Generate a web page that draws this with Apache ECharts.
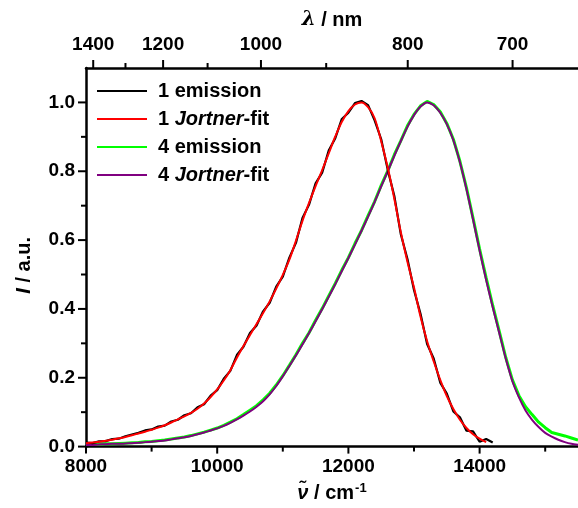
<!DOCTYPE html>
<html>
<head>
<meta charset="utf-8">
<script src="https://cdn.jsdelivr.net/npm/echarts@6/dist/echarts.min.js"></script>
<style>
  html, body { margin: 0; padding: 0; background: #fff; }
  #chart { width: 578px; height: 508px; }
</style>
</head>
<body>
<div id="chart"></div>
<script>
// Wavenumber grid (cm^-1) shared by all spectra
const wavenumber = [
  8000, 8100, 8200, 8300, 8400, 8500, 8600, 8700, 8800, 8900,
  9000, 9100, 9200, 9300, 9400, 9500, 9600, 9700, 9800, 9900,
  10000, 10100, 10200, 10300, 10400, 10500, 10600, 10700, 10800, 10900,
  11000, 11100, 11200, 11300, 11400, 11500, 11600, 11700, 11800, 11900,
  12000, 12100, 12200, 12300, 12400, 12500, 12600, 12700, 12800, 12900,
  13000, 13100, 13200, 13300, 13400, 13500, 13600, 13700, 13800, 13900,
  14000, 14100, 14200, 14300, 14400, 14500, 14600, 14700, 14800, 14900,
  15000, 15100, 15200, 15300, 15400, 15500
];

// Compound 1: measured emission (8000 - 14200 cm^-1)
const emission1 = [
  0.012, 0.010, 0.015, 0.016, 0.022, 0.023, 0.030, 0.035, 0.040, 0.047,
  0.050, 0.058, 0.061, 0.073, 0.078, 0.091, 0.097, 0.114, 0.123, 0.148,
  0.164, 0.197, 0.220, 0.266, 0.290, 0.330, 0.352, 0.393, 0.418, 0.465,
  0.494, 0.549, 0.592, 0.664, 0.703, 0.765, 0.796, 0.860, 0.896, 0.952,
  0.970, 0.998, 1.004, 0.992, 0.948, 0.893, 0.804, 0.728, 0.616, 0.545,
  0.455, 0.385, 0.298, 0.256, 0.186, 0.154, 0.102, 0.085, 0.046, 0.044,
  0.014, 0.022, 0.012
];

// Compound 1: Jortner fit (8000 - 14100 cm^-1)
const fit1 = [
  0.010, 0.012, 0.014, 0.017, 0.020, 0.024, 0.028, 0.033, 0.038, 0.043,
  0.049, 0.055, 0.062, 0.070, 0.079, 0.088, 0.098, 0.110, 0.125, 0.144,
  0.166, 0.192, 0.222, 0.258, 0.292, 0.324, 0.356, 0.388, 0.422, 0.459,
  0.499, 0.543, 0.598, 0.656, 0.708, 0.757, 0.803, 0.852, 0.901, 0.944,
  0.975, 0.994, 1.000, 0.986, 0.954, 0.887, 0.810, 0.720, 0.622, 0.537,
  0.462, 0.377, 0.306, 0.248, 0.194, 0.147, 0.109, 0.078, 0.054, 0.036,
  0.023, 0.013
];

// Compound 4: measured emission (8000 - 15500 cm^-1)
const emission4 = [
  0.007, 0.006, 0.007, 0.008, 0.008, 0.009, 0.010, 0.011, 0.012, 0.014,
  0.015, 0.017, 0.019, 0.022, 0.025, 0.028, 0.032, 0.037, 0.042, 0.048,
  0.054, 0.062, 0.071, 0.081, 0.093, 0.106, 0.119, 0.136, 0.155, 0.179,
  0.206, 0.236, 0.267, 0.300, 0.331, 0.367, 0.401, 0.438, 0.474, 0.513,
  0.549, 0.590, 0.628, 0.671, 0.712, 0.759, 0.801, 0.848, 0.889, 0.932,
  0.965, 0.990, 1.003, 0.994, 0.973, 0.939, 0.893, 0.829, 0.752, 0.664,
  0.574, 0.490, 0.410, 0.335, 0.258, 0.194, 0.148, 0.116, 0.093, 0.071,
  0.055, 0.041, 0.036, 0.031, 0.025, 0.019
];

// Compound 4: Jortner fit (8000 - 15500 cm^-1)
const fit4 = [
  0.005, 0.005, 0.006, 0.007, 0.008, 0.008, 0.009, 0.010, 0.011, 0.013,
  0.014, 0.016, 0.018, 0.021, 0.024, 0.027, 0.031, 0.036, 0.041, 0.047,
  0.053, 0.060, 0.069, 0.079, 0.090, 0.102, 0.116, 0.132, 0.152, 0.176,
  0.204, 0.234, 0.265, 0.297, 0.330, 0.364, 0.399, 0.435, 0.472, 0.510,
  0.548, 0.587, 0.627, 0.668, 0.711, 0.756, 0.800, 0.845, 0.888, 0.929,
  0.963, 0.988, 1.000, 0.992, 0.970, 0.937, 0.890, 0.826, 0.748, 0.660,
  0.570, 0.484, 0.405, 0.330, 0.255, 0.190, 0.143, 0.105, 0.078, 0.057,
  0.040, 0.029, 0.020, 0.013, 0.008, 0.005
];

// Axis ticks
const xMajorTicks = [8000, 10000, 12000, 14000];
const xMinorTicks = [9000, 11000, 13000, 15000];
const yMajorTicks = [0, 0.2, 0.4, 0.6, 0.8, 1.0];
const yMinorTicks = [0.1, 0.3, 0.5, 0.7, 0.9];
const lambdaMajorTicks = [1400, 1200, 1000, 800, 700];   // nm
const lambdaMinorTicks = [1300, 1100, 900];              // nm

const seriesNames = ['1 emission', '1 Jortner-fit', '4 emission', '4 Jortner-fit'];

const X_MIN = 8000, X_MAX = 15500;
const Y_MIN = 0, Y_MAX = 1.1;
const TOP_MIN = 7020, TOP_MAX = 15400;

const pairs = (ys) => ys.map((y, i) => [wavenumber[i], y]);
const toWn = (nm) => 1e7 / nm;

const FONT = 'Liberation Sans, Arial, sans-serif';
const AX = '#000';
const baseText = { fontFamily: FONT, fontWeight: 'bold', color: '#000' };

// Tick marks drawn as short segments placed through the axis scales
function tickSeries(name, xAxisIndex, data, dir, len) {
  return {
    name, type: 'custom', xAxisIndex, yAxisIndex: 0, clip: false, silent: true, z: 10,
    data,
    renderItem: (params, api) => {
      const p = api.coord([api.value(0), api.value(1)]);
      let x2 = p[0], y2 = p[1];
      if (dir === 'down') y2 += len;
      else if (dir === 'up') y2 -= len;
      else x2 -= len;
      return {
        type: 'line',
        shape: { x1: p[0], y1: p[1], x2, y2 },
        style: { stroke: AX, lineWidth: 2 }
      };
    }
  };
}

const chart = echarts.init(document.getElementById('chart'), null, { renderer: 'canvas' });

chart.setOption({
  animation: false,
  backgroundColor: '#fff',
  tooltip: { show: false },
  grid: { left: 86, right: 0, top: 68, bottom: 58, containLabel: false },
  legend: {
    orient: 'vertical',
    left: 97,
    top: 81,
    padding: 0,
    itemWidth: 50,
    itemHeight: 14,
    itemGap: 8,
    icon: 'path://M0,0 L50,0 L50,2 L0,2 Z',
    data: seriesNames,
    formatter: (name) => name.replace('Jortner', '{i|Jortner}'),
    textStyle: {
      ...baseText, fontSize: 20, padding: [0, 0, 0, 6],
      rich: { i: { ...baseText, fontSize: 20, fontStyle: 'italic' } }
    }
  },
  xAxis: [
    {
      type: 'value', position: 'bottom', min: X_MIN, max: X_MAX,
      name: '{i|ν̃} / cm{sup|-1}', nameLocation: 'middle', nameGap: 28,
      nameTextStyle: {
        ...baseText, fontSize: 20,
        rich: {
          i: { ...baseText, fontSize: 20, fontStyle: 'italic' },
          sup: { ...baseText, fontSize: 13, verticalAlign: 'top', padding: [0, 0, 10, 1] }
        }
      },
      axisLine: { show: true, onZero: false, lineStyle: { color: AX, width: 2.5 } },
      axisTick: { show: false },
      axisLabel: { ...baseText, fontSize: 19, margin: 11, customValues: xMajorTicks, formatter: (v) => String(v) },
      splitLine: { show: false }
    },
    {
      type: 'value', position: 'top', min: TOP_MIN, max: TOP_MAX,
      name: '{i|λ} / nm', nameLocation: 'middle', nameGap: 38,
      nameTextStyle: {
        ...baseText, fontSize: 20,
        rich: { i: { ...baseText, fontSize: 20, fontStyle: 'italic', fontFamily: 'DejaVu Serif, serif' } }
      },
      axisLine: { show: true, onZero: false, lineStyle: { color: AX, width: 2.5 } },
      axisTick: { show: false },
      axisLabel: {
        ...baseText, fontSize: 19, margin: 14,
        customValues: lambdaMajorTicks.map(toWn),
        formatter: (v) => String(Math.round(1e7 / v))
      },
      splitLine: { show: false }
    }
  ],
  yAxis: [
    {
      type: 'value', min: Y_MIN, max: Y_MAX,
      name: '{i|I} / a.u.', nameLocation: 'middle', nameGap: 52, nameRotate: 90,
      nameTextStyle: {
        ...baseText, fontSize: 20, padding: [0, 16, 0, 0],
        rich: { i: { ...baseText, fontSize: 20, fontStyle: 'italic' } }
      },
      axisLine: { show: true, onZero: false, lineStyle: { color: AX, width: 2.5 } },
      axisTick: { show: false },
      axisLabel: { ...baseText, fontSize: 19, margin: 11, customValues: yMajorTicks, formatter: (v) => v.toFixed(1) },
      splitLine: { show: false }
    }
  ],
  series: [
    {
      name: seriesNames[0], type: 'line', xAxisIndex: 0, yAxisIndex: 0,
      data: pairs(emission1), showSymbol: false, symbol: 'none', z: 3,
      color: '#000000', lineStyle: { color: '#000000', width: 2.2 }
    },
    {
      name: seriesNames[1], type: 'line', xAxisIndex: 0, yAxisIndex: 0,
      data: pairs(fit1), showSymbol: false, symbol: 'none', smooth: 0.3, z: 4,
      color: '#ff0000', lineStyle: { color: '#ff0000', width: 2 }
    },
    {
      name: seriesNames[2], type: 'line', xAxisIndex: 0, yAxisIndex: 0,
      data: pairs(emission4), showSymbol: false, symbol: 'none', z: 1,
      color: '#00ff00', lineStyle: { color: '#00ff00', width: 3 }
    },
    {
      name: seriesNames[3], type: 'line', xAxisIndex: 0, yAxisIndex: 0,
      data: pairs(fit4), showSymbol: false, symbol: 'none', smooth: 0.3, z: 2,
      color: '#800080', lineStyle: { color: '#800080', width: 2 }
    },
    tickSeries('xMajor', 0, xMajorTicks.map((v) => [v, Y_MIN]), 'down', 7),
    tickSeries('xMinor', 0, xMinorTicks.map((v) => [v, Y_MIN]), 'down', 5),
    tickSeries('yMajor', 0, yMajorTicks.map((v) => [X_MIN, v]), 'left', 8),
    tickSeries('yMinor', 0, yMinorTicks.map((v) => [X_MIN, v]), 'left', 5),
    tickSeries('lambdaMajor', 1, lambdaMajorTicks.map((nm) => [toWn(nm), Y_MAX]), 'up', 8),
    tickSeries('lambdaMinor', 1, lambdaMinorTicks.map((nm) => [toWn(nm), Y_MAX]), 'up', 5)
  ]
});
</script>
</body>
</html>
